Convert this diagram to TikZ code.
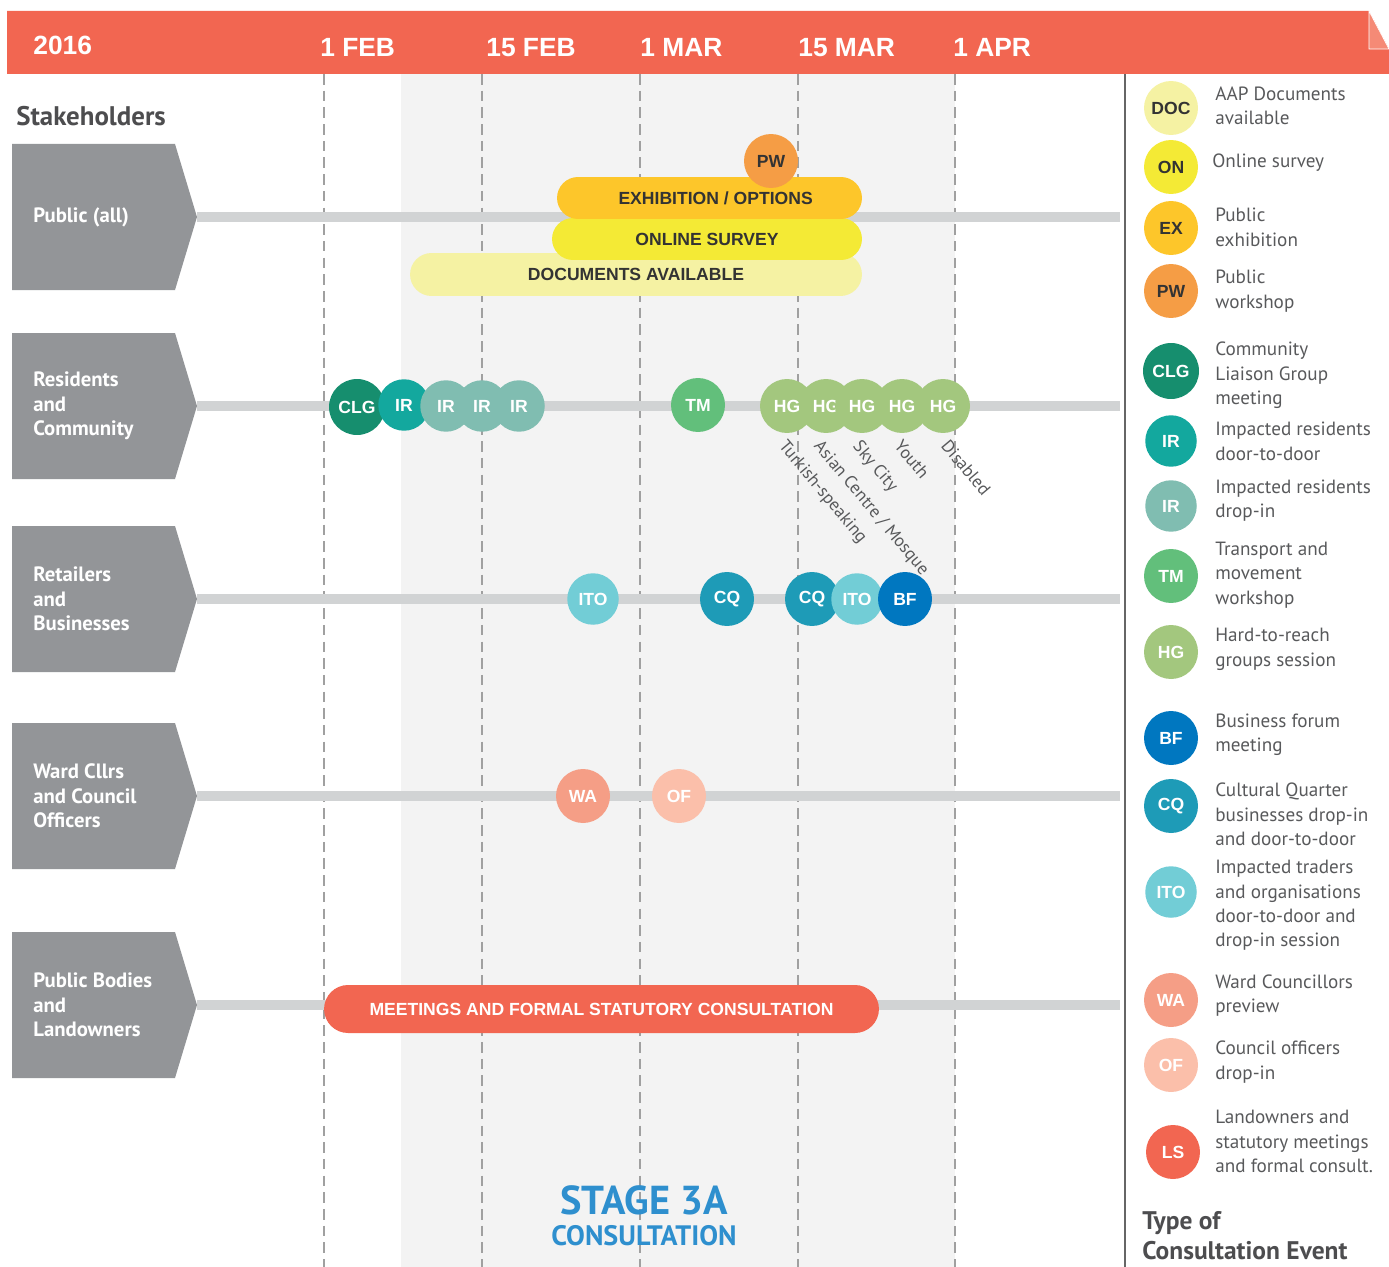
\documentclass[tikz,border=0pt]{standalone}
\usepackage{fontspec}
\setmainfont{PT Sans}
\newfontfamily\arialfont{Liberation Sans}
\usetikzlibrary{positioning,calc,shapes.misc}

\definecolor{headred}{HTML}{F26651}
\definecolor{foldred}{HTML}{F58A76}
\definecolor{bgshade}{HTML}{F3F3F3}
\definecolor{dashgray}{HTML}{A0A0A0}
\definecolor{stakegray}{HTML}{939598}
\definecolor{trackgray}{HTML}{D1D3D4}
\definecolor{legendtext}{HTML}{58595B}
\definecolor{titlegray}{HTML}{4D4D4F}
\definecolor{stageblue}{HTML}{2E8FCE}
\definecolor{darktext}{HTML}{333333}
\definecolor{doccol}{HTML}{F5F2A3}
\definecolor{oncol}{HTML}{F4EA35}
\definecolor{excol}{HTML}{FDC62A}
\definecolor{pwcol}{HTML}{F59D45}
\definecolor{clgcol}{HTML}{168E6E}
\definecolor{ircol}{HTML}{13A89E}
\definecolor{irdcol}{HTML}{80BDB1}
\definecolor{tmcol}{HTML}{62BF7B}
\definecolor{hgcol}{HTML}{A3C77E}
\definecolor{bfcol}{HTML}{0077C0}
\definecolor{cqcol}{HTML}{1E9BB7}
\definecolor{itocol}{HTML}{72CDD6}
\definecolor{wacol}{HTML}{F59E86}
\definecolor{ofcol}{HTML}{FBBFAA}
\definecolor{lscol}{HTML}{F26651}

\tikzset{
	datelabel/.style = {anchor=base west, inner sep=0pt, text=white,
			font=\arialfont\bfseries\fontsize{15}{18}\selectfont},
	dateline/.style = {draw=dashgray, line width=0.6pt, dash pattern=on 6pt off 3.5pt},
	stakelabel/.style = {anchor=west, inner sep=0pt, text=white, align=left,
			font=\bfseries\fontsize{11.8}{13.9}\selectfont},
	track/.style = {draw=trackgray, line width=5.7pt},
	event/.style = {
			circle,
			inner sep    = 0pt,
			minimum size = 1.08cm,
			text         = white,
			font         = \arialfont\bfseries\fontsize{10}{12}\selectfont,
		},
	small/.style = {minimum size=1.03cm},
	doc/.style = {event, fill=doccol, text=darktext},
	on/.style  = {event, fill=oncol, text=darktext},
	ex/.style  = {event, fill=excol, text=darktext},
	pw/.style  = {event, fill=pwcol, text=darktext},
	clg/.style = {event, fill=clgcol, minimum size=1.12cm},
	ir/.style  = {event, small, fill=ircol},
	ird/.style = {event, small, fill=irdcol},
	tm/.style  = {event, fill=tmcol},
	hg/.style  = {event, fill=hgcol},
	bf/.style  = {event, fill=bfcol},
	cq/.style  = {event, fill=cqcol},
	ito/.style = {event, small, fill=itocol},
	wa/.style  = {event, fill=wacol},
	of/.style  = {event, fill=ofcol},
	ls/.style  = {event, fill=lscol},
	band/.style = {rounded rectangle, inner sep=0pt, text=darktext,
			font=\arialfont\bfseries\fontsize{10}{12}\selectfont},
	group/.style = {anchor=north west, inner sep=0pt, rotate=-50, text=legendtext,
			font=\fontsize{10}{12}\selectfont},
	legend/.style = {anchor=west, inner sep=0pt, align=left, text=legendtext,
			font=\fontsize{10.9}{13.9}\selectfont},
}

\begin{document}
\begin{tikzpicture}[x=0.02cm, y=-0.02cm]
	\useasboundingbox (0,0) rectangle (1389,1267);

	% consultation period
	\fill[bgshade] (401,74) rectangle (955,1267);
	\draw[draw=gray!80!black, line width=0.8pt] (1125,74) -- (1125,1267);

	% header
	\fill[headred] (7,11) -- (1369,11) -- (1389,49) -- (1389,74) -- (7,74) -- cycle;
	\filldraw[fill=foldred, draw=white, line width=0.4pt] (1369,11) -- (1369,49) -- (1389,49) -- cycle;
	\node[datelabel] (year) at (33,55) {2016};
	\foreach \x/\lx/\d in {324/320/1 FEB, 482/486/15 FEB, 640/640/1 MAR, 798/798/15 MAR, 955/953/1 APR} {
		\draw[dateline] (\x,74) -- (\x,1267);
		\node[datelabel] (date\x) at (\lx,57) {\d};
	}

	% stakeholders
	\node[anchor=west, inner sep=0pt, text=titlegray, font=\bfseries\fontsize{15.3}{17}\selectfont] (stk) at (16,116) {Stakeholders};
	\foreach \y/\txt in {217/{Public (all)}, 406/{Residents\\and\\Community}, 599/{Retailers\\and\\Businesses},
			796/{Ward Cllrs\\and Council\\Officers}, 1005/{Public Bodies\\and\\Landowners}} {
		\coordinate (tip\y) at (197,\y);
		\coordinate (end\y) at (1120,\y);
		\draw[track] (tip\y) -- (end\y);
		\fill[stakegray] (12,\y-73) -- (175,\y-73) -- (tip\y) -- (175,\y+73) -- (12,\y+73) -- cycle;
		\node[stakelabel] (row\y) at (33,\y) {\txt};
	}

	% public (all)
	\node[band, fill=doccol, minimum width=9.04cm, minimum height=0.86cm] (docs) at (636,274.5) {DOCUMENTS AVAILABLE};
	\node[band, fill=oncol, minimum width=6.2cm, minimum height=0.84cm] (survey) at (707,239) {ONLINE SURVEY};
	\node[band, fill=excol, minimum width=6.1cm, minimum height=0.84cm] (exhib) at (709.5,198) {\hspace{7pt}EXHIBITION / OPTIONS};
	\node[pw] (pw1) at (771,161) {PW};

	% residents and community
	\node[clg] (clg1) at (357,407) {CLG};
	\node[ir]  (ir1)  at (404,405) {IR};
	\node[ird] (ir2)  at (446,406) {IR};
	\node[ird] (ir3)  at (482,406) {IR};
	\node[ird] (ir4)  at (519,406) {IR};
	\node[tm]  (tm1)  at (698,405) {TM};
	\node[hg]  (hg1)  at (787,406) {HG};
	\node[hg]  (hg2)  at (826,406) {HG};
	\node[hg]  (hg3)  at (862,406) {HG};
	\node[hg]  (hg4)  at (902,406) {HG};
	\node[hg]  (hg5)  at (943,406) {HG};
	\node[group] (grp1) at ([shift={(1,5)}]hg1.south) {Turkish-speaking};
	\node[group] (grp2) at ([shift={(-3,5)}]hg2.south) {Asian Centre / Mosque};
	\node[group] (grp3) at ([shift={(0,5)}]hg3.south) {Sky City};
	\node[group] (grp4) at ([shift={(1,5)}]hg4.south) {Youth};
	\node[group] (grp5) at ([shift={(7,5)}]hg5.south) {Disabled};

	% retailers and businesses
	\node[ito] (ito1) at (593,599) {ITO};
	\node[cq]  (cq1)  at (727,599) {CQ};
	\node[cq]  (cq2)  at (812,599) {CQ};
	\node[ito] (ito2) at (857,599) {ITO};
	\node[bf]  (bf1)  at (905,599) {BF};

	% ward cllrs and council officers
	\node[wa] (wa1) at (583,796) {WA};
	\node[of] (of1) at (679,796) {OF};

	% public bodies and landowners
	\node[band, fill=lscol, text=white, minimum width=11.1cm, minimum height=0.96cm] (meet) at (601.5,1009) {MEETINGS AND FORMAL STATUTORY CONSULTATION\hspace{7pt}};

	% stage title
	\node[text=stageblue, font=\bfseries\fontsize{23}{26}\selectfont, inner sep=0pt] (stage) at (644,1200) {STAGE 3A};
	\node[text=stageblue, font=\bfseries\fontsize{16}{18}\selectfont, inner sep=0pt] (consult) at (644,1236) {CONSULTATION};

	% legend
	\node[doc] (kdoc) at (1171,108) {DOC};
	\node[on]  (kon)  at (1171,167) {ON};
	\node[ex]  (kex)  at (1171,228) {EX};
	\node[pw]  (kpw)  at (1171,291) {PW};
	\node[clg] (kclg) at (1171,371) {CLG};
	\node[ir]  (kir)  at (1171,441) {IR};
	\node[ird] (kird) at (1171,506) {IR};
	\node[tm]  (ktm)  at (1171,576) {TM};
	\node[hg]  (khg)  at (1171,652) {HG};
	\node[bf]  (kbf)  at (1171,738) {BF};
	\node[cq]  (kcq)  at (1171,806) {CQ};
	\node[ito] (kito) at (1171,892) {ITO};
	\node[wa]  (kwa)  at (1171,1000) {WA};
	\node[of]  (kof)  at (1171,1065) {OF};
	\node[ls]  (kls)  at (1173,1152) {LS};
	\node[legend] (tdoc) at (1215,106) {AAP Documents\\available};
	\node[legend] (ton)  at (1212,163) {Online survey};
	\node[legend] (tex)  at (1215,227.5) {Public\\exhibition};
	\node[legend] (tpw)  at (1215,291) {Public\\workshop};
	\node[legend] (tclg) at (1215,375.5) {Community\\Liaison Group\\meeting};
	\node[legend] (tir)  at (1215,441.5) {Impacted residents\\door-to-door};
	\node[legend] (tird) at (1215,500.5) {Impacted residents\\drop-in};
	\node[legend] (ttm)  at (1215,575) {Transport and\\movement\\workshop};
	\node[legend] (thg)  at (1215,649.5) {Hard-to-reach\\groups session};
	\node[legend] (tbf)  at (1215,735) {Business forum\\meeting};
	\node[legend] (tcq)  at (1215,814.5) {Cultural Quarter\\businesses drop-in\\and door-to-door};
	\node[legend] (tito) at (1215,905.5) {Impacted traders\\and organisations\\door-to-door and\\drop-in session};
	\node[legend] (twa)  at (1215,995.5) {Ward Councillors\\preview};
	\node[legend] (tof)  at (1215,1062) {Council officers\\drop-in};
	\node[legend] (tls)  at (1215,1141.5) {Landowners and\\statutory meetings\\and formal consult.};
	\node[anchor=west, inner sep=0pt, align=left, text=titlegray, font=\bfseries\fontsize{14.5}{17}\selectfont] (ktitle) at (1142,1236) {Type of\\Consultation Event};
\end{tikzpicture}
\end{document}
